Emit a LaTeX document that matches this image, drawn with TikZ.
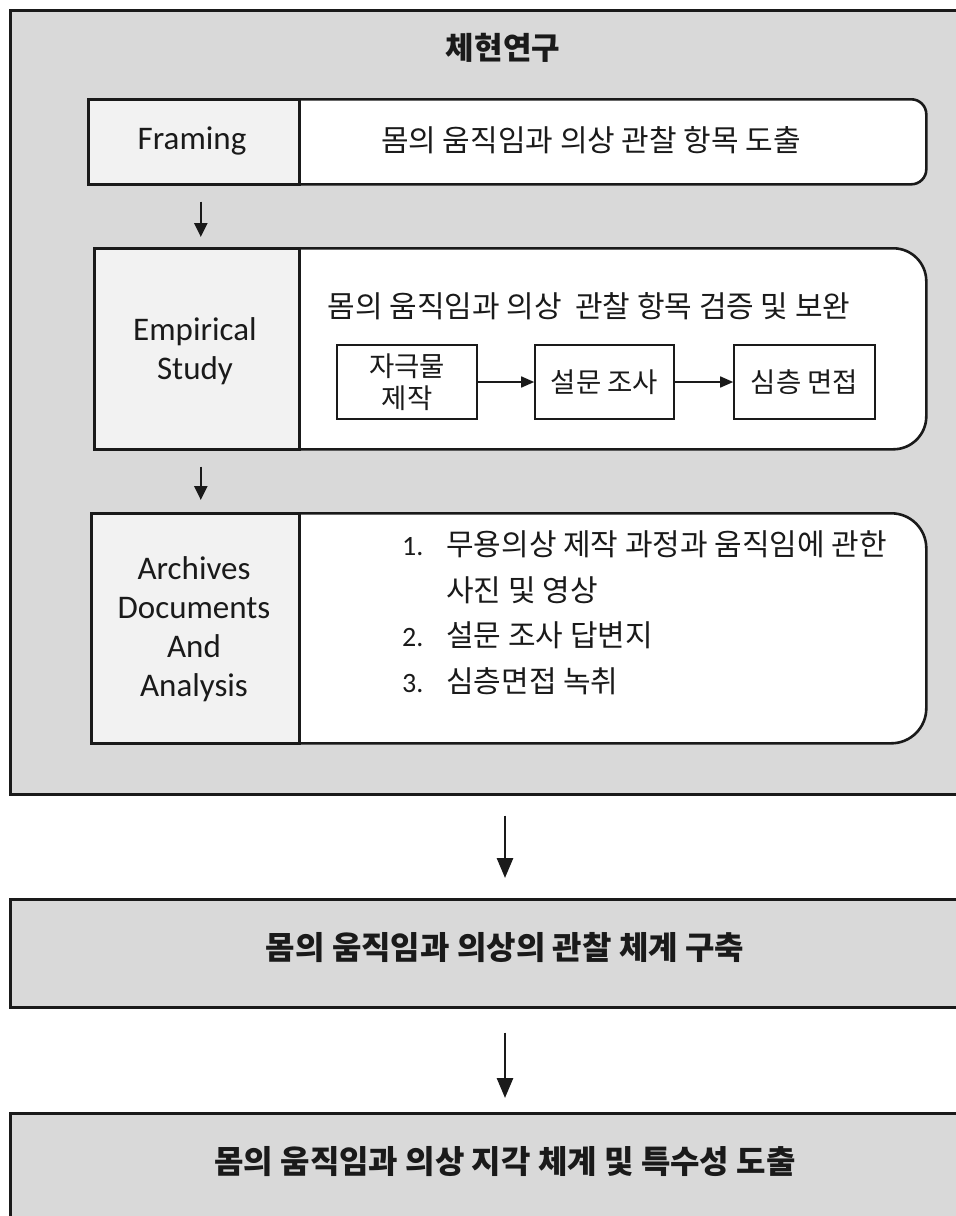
\documentclass[tikz,border=0pt]{standalone}
\usepackage{fontspec}
\setmainfont{Carlito}
\newfontfamily\kr{Noto Sans CJK KR}
\usetikzlibrary{arrows.meta}
\definecolor{outergray}{HTML}{D9D9D9}
\definecolor{cellgray}{HTML}{F2F2F2}
\definecolor{ink}{HTML}{1A1A1A}
\tikzset{
  box/.style={draw=ink, line width=2.6pt, inner sep=0pt, anchor=north west},
  cell/.style={box, fill=cellgray},
  sbox/.style={draw=ink, line width=1.6pt, inner sep=0pt, fill=white, minimum height=74pt},
  lbl/.style={font=\fontsize{33}{39}\selectfont, text=ink, align=center, inner sep=0pt},
  krt/.style={font=\kr\fontsize{30}{34}\selectfont, text=ink, inner sep=0pt},
  krs/.style={font=\kr\fontsize{27.5}{32}\selectfont, text=ink, align=center, inner sep=0pt},
  krb/.style={font=\kr\bfseries\fontsize{32}{36}\selectfont, text=ink, inner sep=0pt},
  num/.style={font=\fontsize{28}{32}\selectfont, text=ink, inner sep=0pt},
  arr/.style={line width=2.4pt, draw=ink, -{Triangle[width=13pt,length=14pt]}},
  bigarr/.style={line width=2.8pt, draw=ink, -{Triangle[width=16pt,length=20pt]}},
  sarr/.style={line width=1.6pt, draw=ink, -{Triangle[width=11pt,length=13pt]}}
}
\begin{document}
\begin{tikzpicture}[x=1pt,y=-1pt]
\clip (0,0) rectangle (956,1216);
\fill[white] (0,0) rectangle (956,1216);
% outer box
\node[box, fill=outergray, minimum width=975pt, minimum height=784pt] (outer) at (9,9) {};
\node[krb, font=\kr\bfseries\fontsize{31}{36}\selectfont] (title) at (503,48) {체현연구};
% Framing row
\node[box, fill=white, rounded corners=15pt, minimum width=675pt, minimum height=85pt] (fR) at (250,98) {};
\node[cell, minimum width=211pt, minimum height=85pt] (fL) at (87,98) {};
\node[lbl] (fLt) at (192,141) {Framing};
\node[krt] (fRt) at (591,140) {몸의 움직임과 의상 관찰 항목 도출};
% Empirical row
\node[box, fill=white, rounded corners=33pt, minimum width=675pt, minimum height=201pt] (eR) at (250,247) {};
\node[cell, minimum width=205pt, minimum height=201pt] (eL) at (93,247) {};
\node[lbl] (eLt) at (195,351) {Empirical\\Study};
\node[krt] (eRt) at (589,306) {몸의 움직임과 의상\ \ 관찰 항목 검증 및 보완};
\node[sbox, minimum width=140pt] (s1) at (407,382) {};
\node[krs] (s1t) at (407,382) {자극물\\제작};
\node[sbox, minimum width=139pt] (s2) at (604.5,382) {};
\node[krs] (s2t) at (604.5,382) {설문 조사};
\node[sbox, minimum width=141pt] (s3) at (804.5,382) {};
\node[krs] (s3t) at (804.5,382) {심층 면접};
\draw[sarr] (s1.east) -- (s2.west);
\draw[sarr] (s2.east) -- (s3.west);
% Archives row
\node[box, fill=white, rounded corners=35pt, minimum width=675pt, minimum height=230pt] (aR) at (250,512) {};
\node[cell, minimum width=208pt, minimum height=230pt] (aL) at (90,512) {};
\node[lbl] (aLt) at (194,629) {Archives\\Documents\\And\\Analysis};
\node[num, anchor=mid west] (n1) at (402,553) {1.};
\node[krt, anchor=mid west] (l1) at (446,553) {무용의상 제작 과정과 움직임에 관한};
\node[krt, anchor=mid west] (l1b) at (446,599) {사진 및 영상};
\node[num, anchor=mid west] (n2) at (402,644) {2.};
\node[krt, anchor=mid west] (l2) at (446,644) {설문 조사 답변지};
\node[num, anchor=mid west] (n3) at (402,690) {3.};
\node[krt, anchor=mid west] (l3) at (446,690) {심층면접 녹취};
% small arrows
\draw[arr, shorten <=16pt, shorten >=10pt] ([xshift=7pt]fL.south) -- ([xshift=7pt]fL.south |- eL.north);
\draw[arr, shorten <=16pt, shorten >=12pt] ([xshift=4pt]eL.south) -- ([xshift=4pt]eL.south |- aL.north);
% lower boxes
\node[box, fill=outergray, minimum width=975pt, minimum height=108pt] (b2) at (9,898) {};
\node[krb] (b2t) at (505,948) {몸의 움직임과 의상의 관찰 체계 구축};
\node[box, fill=outergray, minimum width=975pt, minimum height=130pt] (b3) at (9,1112) {};
\node[krb] (b3t) at (505,1162) {몸의 움직임과 의상 지각 체계 및 특수성 도출};
\coordinate (ax) at (505,0);
\draw[bigarr, shorten <=20pt, shorten >=20pt] (outer.south -| ax) -- (b2.north -| ax);
\draw[bigarr, shorten <=24pt, shorten >=14pt] (b2.south -| ax) -- (b3.north -| ax);
\end{tikzpicture}
\end{document}
